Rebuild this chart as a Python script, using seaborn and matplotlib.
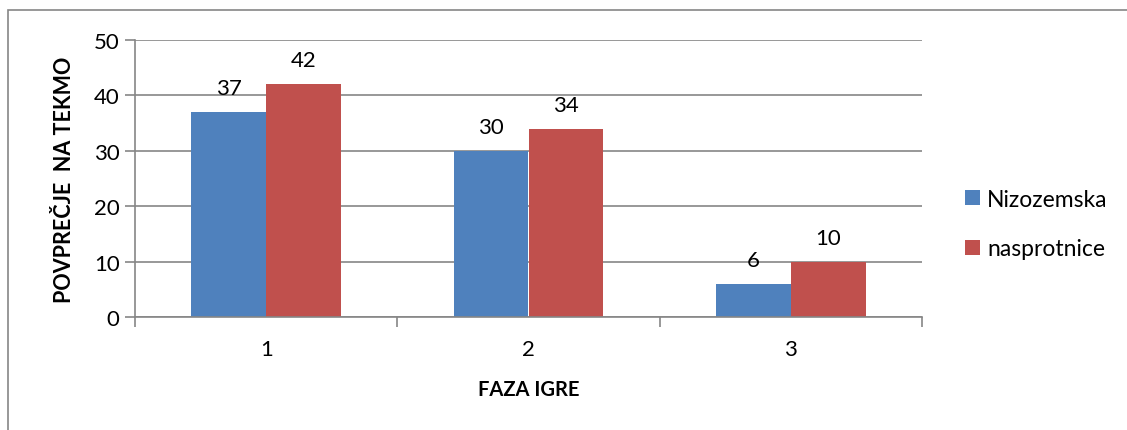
import pandas as pd
import numpy as np
import matplotlib.pyplot as plt
import seaborn as sns
from matplotlib.patches import Rectangle

faze = ["1", "2", "3"]
nizozemska = [37, 30, 6]
nasprotnice = [42, 34, 10]
serije = ["Nizozemska", "nasprotnice"]
barve = ["#4F81BD", "#C0504D"]

df = pd.DataFrame({
    "faza": faze * 2,
    "vrednost": nizozemska + nasprotnice,
    "ekipa": [serije[0]] * 3 + [serije[1]] * 3,
})

sns.set_style("white", {"text.color": "black", "xtick.color": "black",
                        "ytick.color": "black", "axes.labelcolor": "black"})
plt.rcParams["font.family"] = ["Lato", "DejaVu Sans"]

fig = plt.figure(figsize=(11.27, 4.31), dpi=100)
ax = fig.add_axes([135 / 1127, 1 - 318 / 431, (922 - 135) / 1127, (318 - 41) / 431])

sns.barplot(data=df, x="faza", y="vrednost", hue="ekipa", palette=barve,
            width=0.57, gap=0, saturation=1, linewidth=0, ax=ax, legend=True)

# data labels
for c in ax.containers:
    ax.bar_label(c, fmt="%d", padding=10, fontsize=16, color="black")

ax.set_ylim(0, 50)
ax.set_xlim(-0.5, 2.5)
ax.set_yticks(np.arange(0, 51, 10))
ax.yaxis.grid(True, color="#868686", linewidth=1.2)
ax.set_axisbelow(True)

for s in ["top", "right"]:
    ax.spines[s].set_visible(False)
ax.spines["left"].set_color("#868686")
ax.spines["bottom"].set_color("#868686")
ax.spines["left"].set_linewidth(1.2)
ax.spines["bottom"].set_linewidth(1.2)

ax.tick_params(axis="y", length=7, width=1.2, color="#868686", labelcolor="black",
               direction="out", labelsize=16, pad=4, left=True)
ax.tick_params(axis="x", which="major", length=0, labelsize=16, pad=16,
               labelcolor="black")
ax.set_xticks([-0.5, 0.5, 1.5, 2.5], minor=True)
ax.tick_params(axis="x", which="minor", length=7, width=1.2, color="#868686",
               direction="out", bottom=True)

ax.set_xlabel("FAZA IGRE", fontsize=14.5, fontweight="bold", labelpad=14)
ax.set_ylabel("POVPREČJE  NA TEKMO", fontsize=15.5, fontweight="bold", labelpad=14)

ax.legend(loc="center left", bbox_to_anchor=(1.055, 0.336), frameon=False,
          fontsize=16.5, handlelength=0.65, handleheight=0.65, labelspacing=1.25,
          handletextpad=0.3, borderaxespad=0, borderpad=0, title=None)

# outer chart border
fig.patches.append(Rectangle((8 / 1127, -0.05), 1.2, 1 - 11 / 431 + 0.05,
                             transform=fig.transFigure, fill=False,
                             edgecolor="#868686", linewidth=1.2))

fig.savefig("out.png", dpi=100)
